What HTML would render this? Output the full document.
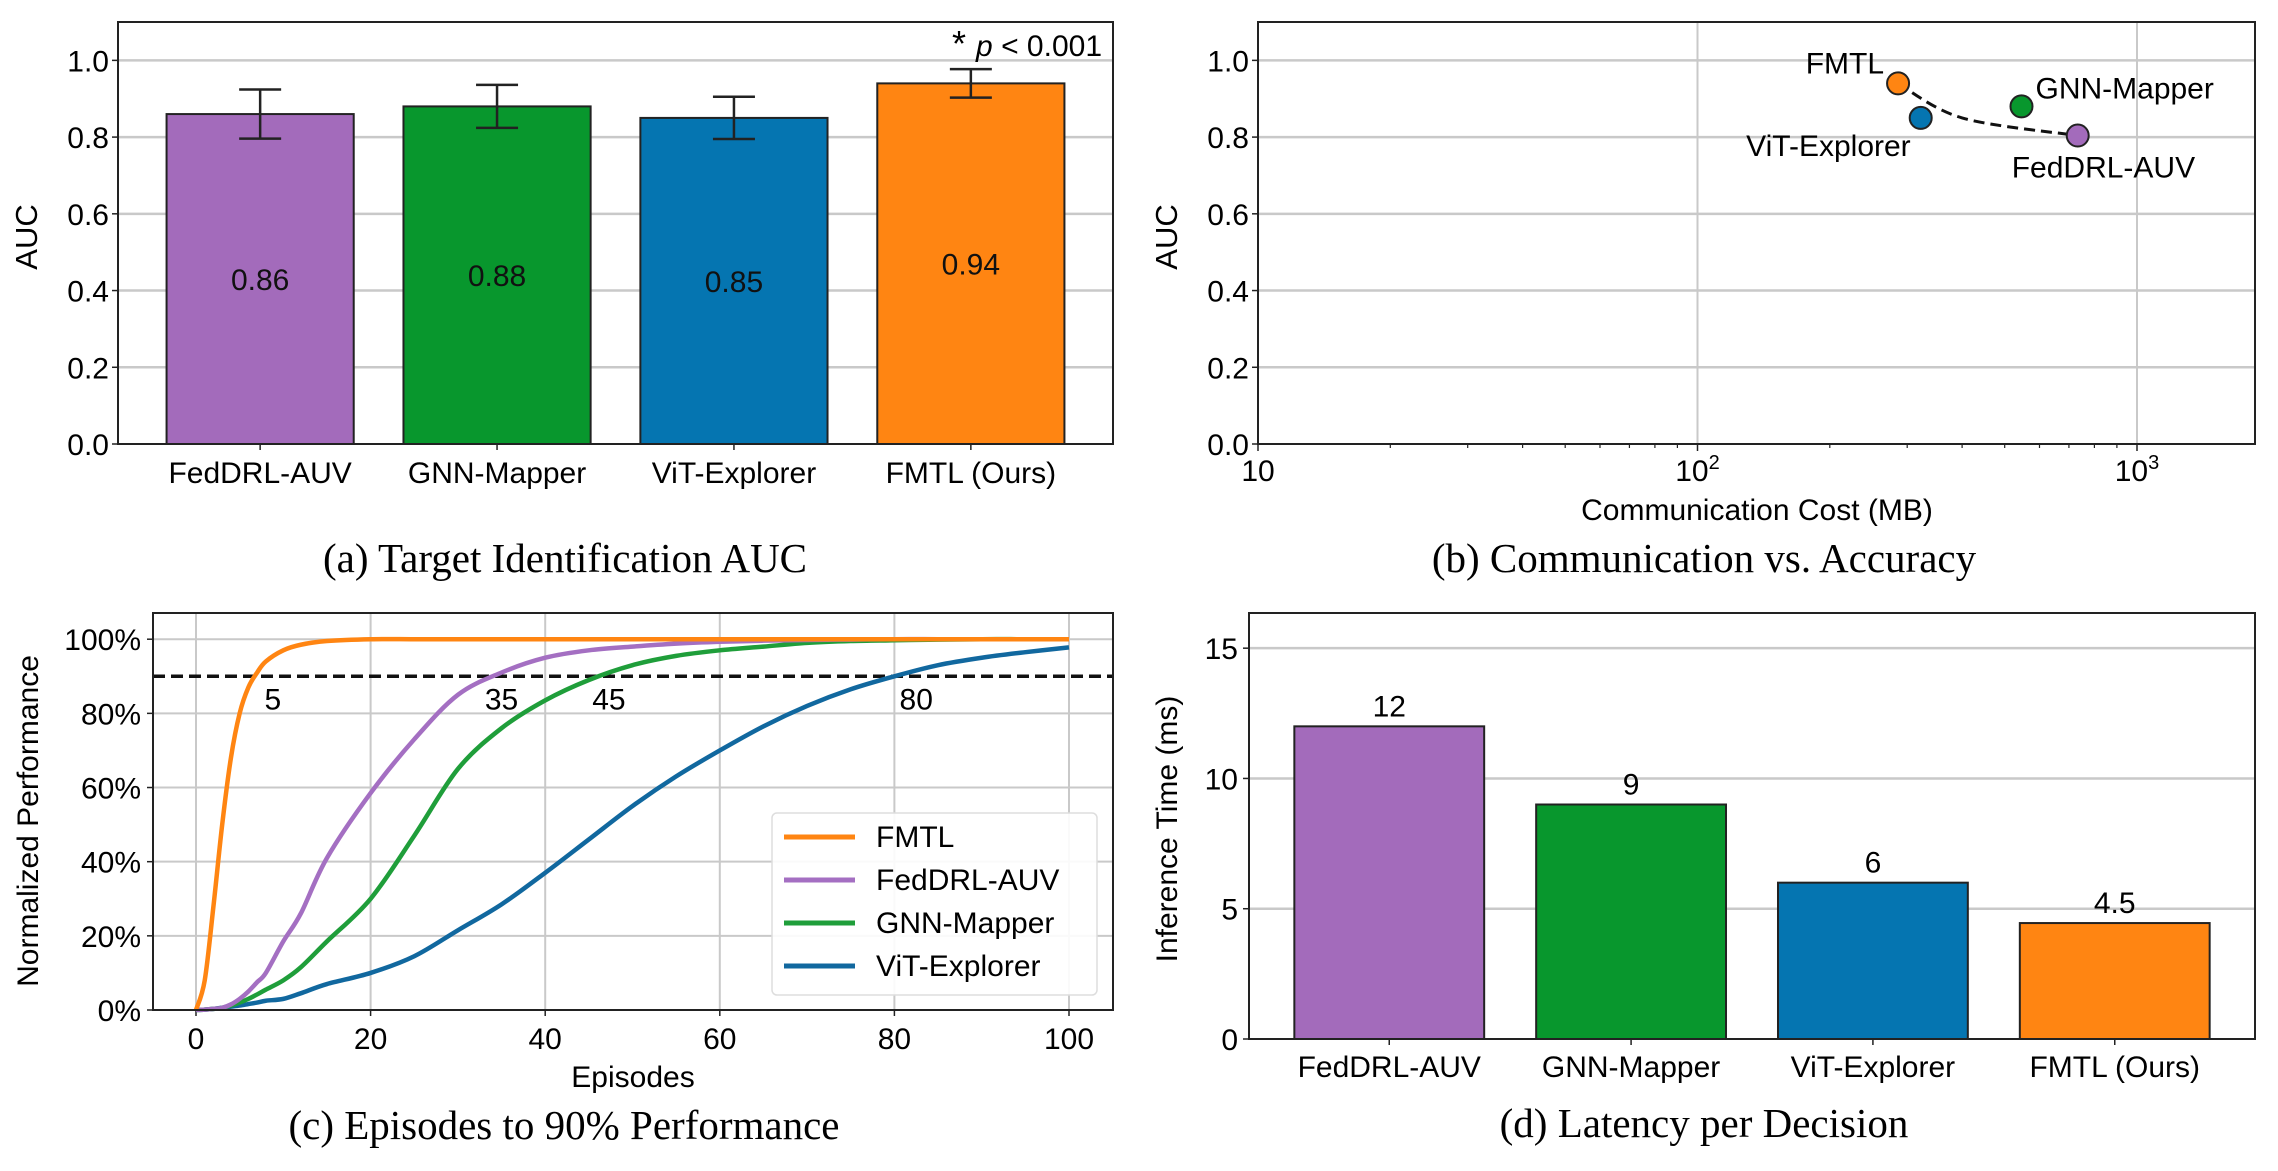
<!DOCTYPE html>
<html><head><meta charset="utf-8"><style>
body{margin:0;background:#fff}
svg{display:block;font-family:"Liberation Sans",sans-serif}
.serif{font-family:"Liberation Serif",serif}
</style></head><body>
<svg id="fig" width="2278" height="1171" viewBox="0 0 2278 1171" xmlns="http://www.w3.org/2000/svg"></svg>
<script>
// ---- data ----
const methodsA = ["FedDRL-AUV","GNN-Mapper","ViT-Explorer","FMTL (Ours)"];
const aucVals = [0.86,0.88,0.85,0.94];
const aucErr = [0.064,0.056,0.055,0.037];
const aucTicks = [0.0,0.2,0.4,0.6,0.8,1.0];

const scatterNames = ["FMTL","ViT-Explorer","GNN-Mapper","FedDRL-AUV"];
const scatterCost = [286,322,546,733];
const scatterAuc = [0.94,0.85,0.88,0.804];
const frontierCost = [286,400,733];
const frontierAuc = [0.94,0.85,0.804];

const episodes = [0,1,2,3,4,5,6,7,8,10,12,15,20,25,30,35,40,45,50,55,60,65,70,75,80,85,90,95,100];
const perfFMTL = [0,0.08,0.28,0.5,0.68,0.8,0.87,0.91,0.94,0.97,0.985,0.995,1,1,1,1,1,1,1,1,1,1,1,1,1,1,1,1,1];
const perfFed  = [0,0.001,0.003,0.006,0.015,0.03,0.05,0.075,0.1,0.185,0.26,0.41,0.585,0.73,0.85,0.91,0.95,0.97,0.98,0.988,0.993,0.996,0.998,0.999,1,1,1,1,1];
const perfGNN  = [0,0.001,0.003,0.006,0.012,0.02,0.03,0.042,0.055,0.08,0.115,0.185,0.3,0.47,0.65,0.76,0.835,0.89,0.93,0.955,0.97,0.98,0.99,0.995,0.997,0.999,1,1,1];
const perfViT  = [0,0.001,0.003,0.006,0.009,0.012,0.016,0.02,0.025,0.03,0.045,0.07,0.1,0.145,0.215,0.285,0.37,0.46,0.55,0.63,0.70,0.765,0.82,0.865,0.90,0.93,0.95,0.965,0.978];
const threshold = 0.9;
const annLabels = ["5","35","45","80"];
const annX = [8.8,35,47.3,82.5];

const methodsD = ["FedDRL-AUV","GNN-Mapper","ViT-Explorer","FMTL (Ours)"];
const latVals = [12,9,6,4.45];
const latLabels = ["12","9","6","4.5"];
const latTicks = [0,5,10,15];

const COL = {purple:"#a36bbb",green:"#08972d",blue:"#0575b1",orange:"#ff8512"};
const barCols = [COL.purple,COL.green,COL.blue,COL.orange];

// ---- helpers ----
const NS="http://www.w3.org/2000/svg";
const svg=document.getElementById("fig");
function mk(tag,attrs,parent,txt){const e=document.createElementNS(NS,tag);for(const k in attrs)e.setAttribute(k,attrs[k]);if(txt!==undefined)e.textContent=txt;(parent||svg).appendChild(e);return e;}
function grp(name){const g=mk("g",{});


return g;}
function smooth(pts){let d="M"+pts[0][0]+","+pts[0][1];
for(let i=0;i<pts.length-1;i++){const p0=pts[Math.max(0,i-1)],p1=pts[i],p2=pts[i+1],p3=pts[Math.min(pts.length-1,i+2)];
 d+=` C${p1[0]+(p2[0]-p0[0])/6},${p1[1]+(p2[1]-p0[1])/6} ${p2[0]-(p3[0]-p1[0])/6},${p2[1]-(p3[1]-p1[1])/6} ${p2[0]},${p2[1]}`;}
return d;}
const GRID="#c9c9c9";
const FS=30;

// ================= Panel A =================
(function(){
const g=grp("panel-a-auc");
const L=118,R=1113,T=22,B=444,ymax=1.10;
const y=v=>B-(v/ymax)*(B-T);
const band=(R-L)/4.2;
const xc=i=>L+band*(0.6+i);
aucTicks.forEach(t=>{
 if(t>0){const l=mk("line",{x1:L,x2:R,y1:y(t),y2:y(t),stroke:GRID,"stroke-width":2.5},g);
 }
 const tl=mk("text",{x:L-9,y:y(t)+11,"text-anchor":"end","font-size":FS},g,t.toFixed(1));
 
 mk("line",{x1:L-6,x2:L,y1:y(t),y2:y(t),stroke:"#222","stroke-width":1.5},g);
});
methodsA.forEach((m,i)=>{
 const w=band*0.79;
 const b=mk("rect",{x:xc(i)-w/2,y:y(aucVals[i]),width:w,height:B-y(aucVals[i]),fill:barCols[i],stroke:"#222","stroke-width":2},g);
 
 
 const lo=y(aucVals[i]-aucErr[i]),hi=y(aucVals[i]+aucErr[i]);
 mk("line",{x1:xc(i),x2:xc(i),y1:lo,y2:hi,stroke:"#222","stroke-width":2.5},g);
 mk("line",{x1:xc(i)-21,x2:xc(i)+21,y1:lo,y2:lo,stroke:"#222","stroke-width":2.5},g);
 mk("line",{x1:xc(i)-21,x2:xc(i)+21,y1:hi,y2:hi,stroke:"#222","stroke-width":2.5},g);
 const vl=mk("text",{x:xc(i),y:y(aucVals[i]/2)+11,"text-anchor":"middle","font-size":FS,fill:"#111"},g,aucVals[i].toFixed(2));
 
 mk("line",{x1:xc(i),x2:xc(i),y1:B,y2:B+6,stroke:"#222","stroke-width":1.5},g);
 const xl=mk("text",{x:xc(i),y:483,"text-anchor":"middle","font-size":FS},g,m);
 
});
mk("rect",{x:L,y:T,width:R-L,height:B-T,fill:"none",stroke:"#222","stroke-width":2},g);
const sig=mk("text",{x:1102,y:56,"text-anchor":"end","font-size":FS},g);

mk("tspan",{"font-size":36},sig,"* ");mk("tspan",{"font-style":"italic"},sig,"p");mk("tspan",{},sig," < 0.001");
const yl=mk("text",{x:0,y:0,transform:"translate(37,237) rotate(-90)","text-anchor":"middle","font-size":31},g,"AUC");

const ti=mk("text",{x:565,y:572,"text-anchor":"middle","font-size":41,class:"serif"},g,"(a) Target Identification AUC");

})();

// ================= Panel B =================
(function(){
const g=grp("panel-b-scatter");
const L=1258,R=2255,T=22,B=444,ymax=1.10;
const dec=439.5;
const x=v=>L+(Math.log10(v)-1)*dec;
const y=v=>B-(v/ymax)*(B-T);
[0.2,0.4,0.6,0.8,1.0].forEach(t=>mk("line",{x1:L,x2:R,y1:y(t),y2:y(t),stroke:GRID,"stroke-width":2.5},g));
[100,1000].forEach(t=>mk("line",{x1:x(t),x2:x(t),y1:T,y2:B,stroke:GRID,"stroke-width":2},g));
[0,0.2,0.4,0.6,0.8,1.0].forEach(t=>{
 const tl=mk("text",{x:L-9,y:y(t)+11,"text-anchor":"end","font-size":FS},g,t.toFixed(1));
 
 mk("line",{x1:L-6,x2:L,y1:y(t),y2:y(t),stroke:"#222","stroke-width":1.5},g);
});
for(let d=10;d<=1000;d*=10){for(let k=2;k<=9;k++){const v=d*k;if(x(v)<R)mk("line",{x1:x(v),x2:x(v),y1:B,y2:B+4,stroke:"#222","stroke-width":1.2},g);}}
[[10,"10",""],[100,"10","2"],[1000,"10","3"]].forEach(a=>{
 mk("line",{x1:x(a[0]),x2:x(a[0]),y1:B,y2:B+7,stroke:"#222","stroke-width":1.5},g);
 const t=mk("text",{x:x(a[0]),y:481,"text-anchor":"middle","font-size":FS},g);
 
 mk("tspan",{},t,a[1]);if(a[2])mk("tspan",{dy:-12,"font-size":20},t,a[2]);
});
let pts=frontierCost.map((c,i)=>[x(c),y(frontierAuc[i])]);
const fr=mk("path",{d:smooth(pts),fill:"none",stroke:"#111","stroke-width":3,"stroke-dasharray":"11,6"},g);

const sc=[COL.orange,COL.blue,COL.green,COL.purple];
const lblOff=[[-14,-20,"end"],[-10,28,"end"],[14,-18,"start"],[-66,32,"start"]];
scatterNames.forEach((n,i)=>{
 const c=mk("circle",{cx:x(scatterCost[i]),cy:y(scatterAuc[i]),r:11,fill:sc[i],stroke:"#222","stroke-width":2},g);
 
 const t=mk("text",{x:x(scatterCost[i])+lblOff[i][0],y:y(scatterAuc[i])+lblOff[i][1]+10,"text-anchor":lblOff[i][2],"font-size":FS},g,n);
 
});
mk("rect",{x:L,y:T,width:R-L,height:B-T,fill:"none",stroke:"#222","stroke-width":2},g);
const xl=mk("text",{x:1757,y:520,"text-anchor":"middle","font-size":FS},g,"Communication Cost (MB)");

const yl=mk("text",{x:0,y:0,transform:"translate(1177,237) rotate(-90)","text-anchor":"middle","font-size":31},g,"AUC");

const ti=mk("text",{x:1704,y:572,"text-anchor":"middle","font-size":41,class:"serif"},g,"(b) Communication vs. Accuracy");

})();

// ================= Panel C =================
(function(){
const g=grp("panel-c-learning-curves");
const L=153,R=1113,T=613,B=1010;
const x=v=>196+v*8.73;
const y=v=>B-v*370.8;
[0,20,40,60,80,100].forEach(t=>{
 mk("line",{x1:x(t),x2:x(t),y1:T,y2:B,stroke:GRID,"stroke-width":2},g);
 mk("line",{x1:x(t),x2:x(t),y1:B,y2:B+6,stroke:"#222","stroke-width":1.5},g);
 const tl=mk("text",{x:x(t),y:1049,"text-anchor":"middle","font-size":FS},g,String(t));
 
});
[0,0.2,0.4,0.6,0.8,1.0].forEach(t=>{
 mk("line",{x1:L,x2:R,y1:y(t),y2:y(t),stroke:GRID,"stroke-width":2},g);
 mk("line",{x1:L-6,x2:L,y1:y(t),y2:y(t),stroke:"#222","stroke-width":1.5},g);
 const tl=mk("text",{x:L-12,y:y(t)+11,"text-anchor":"end","font-size":FS},g,Math.round(t*100)+"%");
 
});
const th=mk("line",{x1:L,x2:R,y1:y(threshold),y2:y(threshold),stroke:"#111","stroke-width":3.5,"stroke-dasharray":"12,6"},g);

const series=[["FMTL",perfFMTL,COL.orange],["FedDRL-AUV",perfFed,"#a46fc2"],["GNN-Mapper",perfGNN,"#1f9e3a"],["ViT-Explorer",perfViT,"#11689f"]];
series.slice().reverse().forEach(s=>{
 const p=mk("path",{d:smooth(episodes.map((e,i)=>[x(e),y(s[1][i])])),fill:"none",stroke:s[2],"stroke-width":4.5,"stroke-linejoin":"round"},g);
 
});
annLabels.forEach((a,i)=>{
 const t=mk("text",{x:x(annX[i]),y:y(threshold)+33,"text-anchor":"middle","font-size":FS},g,a);
 
});
mk("rect",{x:L,y:T,width:R-L,height:B-T,fill:"none",stroke:"#222","stroke-width":2},g);
const lg=mk("g",{},g);

mk("rect",{x:772,y:813,width:325,height:182,rx:5,fill:"#fff","fill-opacity":0.9,stroke:"#ddd","stroke-width":1.5},lg);
series.forEach((s,i)=>{
 const yy=837+i*43;
 mk("line",{x1:784,x2:855,y1:yy,y2:yy,stroke:s[2],"stroke-width":5},lg);
 const t=mk("text",{x:876,y:yy+10,"font-size":FS},lg,s[0]);
 
});
const xl=mk("text",{x:633,y:1087,"text-anchor":"middle","font-size":FS},g,"Episodes");

const yl=mk("text",{x:0,y:0,transform:"translate(38,821) rotate(-90)","text-anchor":"middle","font-size":30},g,"Normalized Performance");

const ti=mk("text",{x:564,y:1139,"text-anchor":"middle","font-size":41,class:"serif"},g,"(c) Episodes to 90% Performance");

})();

// ================= Panel D =================
(function(){
const g=grp("panel-d-latency");
const L=1249,R=2255,T=613,B=1039,ymax=16.35;
const y=v=>B-(v/ymax)*(B-T);
const band=(R-L)/4.16;
const xc=i=>L+band*(0.58+i);
latTicks.forEach(t=>{
 if(t>0)mk("line",{x1:L,x2:R,y1:y(t),y2:y(t),stroke:GRID,"stroke-width":2.5},g);
 mk("line",{x1:L-6,x2:L,y1:y(t),y2:y(t),stroke:"#222","stroke-width":1.5},g);
 const tl=mk("text",{x:L-11,y:y(t)+11,"text-anchor":"end","font-size":FS},g,String(t));
 
});
methodsD.forEach((m,i)=>{
 const w=band*0.785;
 const b=mk("rect",{x:xc(i)-w/2,y:y(latVals[i]),width:w,height:B-y(latVals[i]),fill:barCols[i],stroke:"#222","stroke-width":2},g);
 
 
 const vl=mk("text",{x:xc(i),y:y(latVals[i])-10,"text-anchor":"middle","font-size":FS},g,latLabels[i]);
 
 mk("line",{x1:xc(i),x2:xc(i),y1:B,y2:B+6,stroke:"#222","stroke-width":1.5},g);
 const xl=mk("text",{x:xc(i),y:1077,"text-anchor":"middle","font-size":FS},g,m);
 
});
mk("rect",{x:L,y:T,width:R-L,height:B-T,fill:"none",stroke:"#222","stroke-width":2},g);
const yl=mk("text",{x:0,y:0,transform:"translate(1177,829) rotate(-90)","text-anchor":"middle","font-size":30},g,"Inference Time (ms)");

const ti=mk("text",{x:1704,y:1137,"text-anchor":"middle","font-size":41,class:"serif"},g,"(d) Latency per Decision");

})();
</script>
</body></html>
